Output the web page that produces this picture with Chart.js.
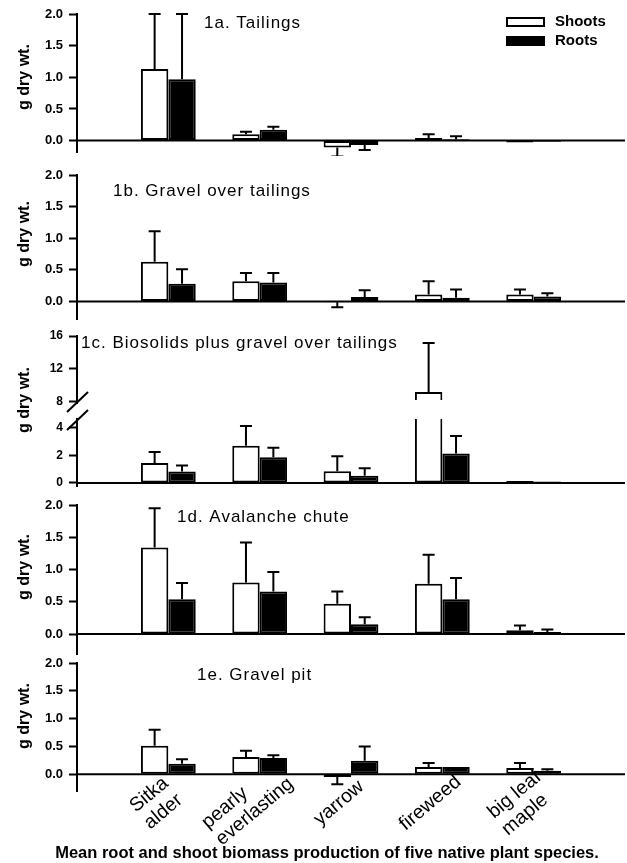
<!DOCTYPE html>
<html>
<head>
<meta charset="utf-8">
<script src="https://cdn.jsdelivr.net/npm/chart.js@4.4.1/dist/chart.umd.min.js"></script>
<style>
  html, body { margin: 0; padding: 0; background: #fff; }
  #wrap { position: relative; width: 627px; height: 863px; overflow: hidden; }
  #wrap canvas { position: absolute; left: 0; }
</style>
</head>
<body>
<div id="wrap"></div>
<script>
// categories and series
const species = ['Sitka alder', 'pearly everlasting', 'yarrow', 'fireweed', 'big leaf maple'];
const speciesLines = [['Sitka', 'alder'], ['pearly', 'everlasting'], ['yarrow'], ['fireweed'], ['big leaf', 'maple']];
const seriesNames = ['Shoots', 'Roots'];
const panelTitles = ['1a. Tailings', '1b. Gravel over tailings', '1c. Biosolids plus gravel over tailings',
                     '1d. Avalanche chute', '1e. Gravel pit'];
const yTitle = 'g dry wt.';
const caption = 'Mean root and shoot biomass production of five native plant species.';

// 1a. Tailings
const shootsA    = [1.13, 0.10, -0.11, 0.04, -0.03];
const shootsErrA = [0.87, 0.04, 0.14, 0.06, 0];
const rootsA     = [0.97, 0.17, -0.07, 0.02, -0.02];
const rootsErrA  = [1.03, 0.05, 0.08, 0.05, 0];

// 1b. Gravel over tailings
const shootsB    = [0.63, 0.32, -0.01, 0.11, 0.11];
const shootsErrB = [0.48, 0.13, 0.08, 0.21, 0.08];
const rootsB     = [0.28, 0.30, 0.07, 0.06, 0.08];
const rootsErrB  = [0.23, 0.15, 0.11, 0.13, 0.05];

// 1c. Biosolids plus gravel over tailings
const shootsC    = [1.45, 2.71, 0.85, 9.2, 0.15];
const shootsErrC = [0.80, 1.60, 1.10, 5.95, 0];
const rootsC     = [0.84, 1.87, 0.53, 2.15, 0.10];
const rootsErrC  = [0.43, 0.70, 0.54, 1.27, 0];

// 1d. Avalanche chute
const shootsD    = [1.34, 0.80, 0.47, 0.78, 0.06];
const shootsErrD = [0.61, 0.62, 0.19, 0.45, 0.07];
const rootsD     = [0.54, 0.66, 0.15, 0.54, 0.03];
const rootsErrD  = [0.25, 0.30, 0.11, 0.33, 0.04];

// 1e. Gravel pit
const shootsE    = [0.51, 0.31, -0.05, 0.13, 0.11];
const shootsErrE = [0.29, 0.11, 0.13, 0.07, 0.09];
const rootsE     = [0.19, 0.29, 0.24, 0.13, 0.06];
const rootsErrE  = [0.08, 0.05, 0.26, 0, 0.03];

// tick labels
const ticksStd = [0, 0.5, 1.0, 1.5, 2.0];
const ticksStdLabels = ['0.0', '0.5', '1.0', '1.5', '2.0'];
const ticksC = [0, 2, 4, 8, 12, 16];
const ticksCLabels = ['0', '2', '4', '8', '12', '16'];

// broken axis in 1c: real value -> axis units
const breakFrom = [0, 4, 8, 16];
const breakTo = [0, 4, 5.89, 10.69];

function brk(v) {
  if (v <= breakFrom[1]) return v;
  for (let i = 2; i < breakFrom.length; i++) {
    if (v <= breakFrom[i] || i === breakFrom.length - 1) {
      const a = breakFrom[i - 1], b = breakFrom[i];
      return breakTo[i - 1] + (v - a) * (breakTo[i] - breakTo[i - 1]) / (b - a);
    }
  }
}
const ident = v => v;

const FONT = '"Liberation Sans", Arial, Helvetica, sans-serif';
Chart.defaults.font.family = FONT;
Chart.defaults.color = '#000';

const panels = [
  { shoots: shootsA, shootsErr: shootsErrA, roots: rootsA, rootsErr: rootsErrA,
    ticks: ticksStd, tickLabels: ticksStdLabels, fwd: ident, min: -0.18, max: 2,
    top: 14, bottom: 152, titleX: 204, titleY: 23, yTitleY: 77, legend: true },
  { shoots: shootsB, shootsErr: shootsErrB, roots: rootsB, rootsErr: rootsErrB,
    ticks: ticksStd, tickLabels: ticksStdLabels, fwd: ident, min: -0.276, max: 2,
    top: 175, bottom: 319, titleX: 113, titleY: 191, yTitleY: 234 },
  { shoots: shootsC, shootsErr: shootsErrC, roots: rootsC, rootsErr: rootsErrC,
    ticks: ticksC, tickLabels: ticksCLabels, fwd: brk, min: -0.22, max: brk(16),
    top: 336, bottom: 486, titleX: 81, titleY: 343, yTitleY: 400, broken: true, tickSize: 12 },
  { shoots: shootsD, shootsErr: shootsErrD, roots: rootsD, rootsErr: rootsErrD,
    ticks: ticksStd, tickLabels: ticksStdLabels, fwd: ident, min: -0.31, max: 2,
    top: 505, bottom: 654, titleX: 177, titleY: 517, yTitleY: 567 },
  { shoots: shootsE, shootsErr: shootsErrE, roots: rootsE, rootsErr: rootsErrE,
    ticks: ticksStd, tickLabels: ticksStdLabels, fwd: ident, min: -0.306, max: 2,
    top: 663, bottom: 791, titleX: 197, titleY: 675, yTitleY: 716, xLabels: true }
];

function makeExtras(p, k, canvasTop) {
  return {
    id: 'panelExtras' + k,
    afterDatasetsDraw(chart) {
      const ctx = chart.ctx, area = chart.chartArea, ys = chart.scales.y;
      ctx.save();
      ctx.strokeStyle = '#000';
      ctx.lineWidth = 2;
      // error bars, one side only
      chart.data.datasets.forEach((ds, di) => {
        const meta = chart.getDatasetMeta(di);
        const vals = di === 0 ? p.shoots : p.roots;
        const errs = di === 0 ? p.shootsErr : p.rootsErr;
        vals.forEach((v, j) => {
          const e = errs[j];
          if (!e) return;
          const bar = meta.data[j + 1];
          const end = v < 0 ? v - e : v + e;
          const y0 = ys.getPixelForValue(p.fwd(v));
          const y1 = ys.getPixelForValue(p.fwd(end));
          ctx.beginPath();
          ctx.moveTo(bar.x, y0);
          ctx.lineTo(bar.x, y1);
          ctx.moveTo(bar.x - 6, y1);
          ctx.lineTo(bar.x + 6, y1);
          ctx.stroke();
        });
      });
      // zero line
      const z = ys.getPixelForValue(0);
      ctx.beginPath();
      ctx.moveTo(area.left, z);
      ctx.lineTo(area.right, z);
      ctx.stroke();
      ctx.restore();
    },
    afterDraw(chart) {
      const ctx = chart.ctx, area = chart.chartArea, ys = chart.scales.y, xs = chart.scales.x;
      ctx.save();
      if (p.broken) {
        const y8 = ys.getPixelForValue(p.fwd(8));
        ctx.fillStyle = '#fff';
        ctx.fillRect(area.left + 2, y8 - 2, area.right - area.left - 2, 19);
        ctx.fillRect(area.left - 3, y8 + 2, 6, 14);
        ctx.strokeStyle = '#000';
        ctx.lineWidth = 2;
        ctx.beginPath();
        ctx.moveTo(area.left - 10, y8 + 10);
        ctx.lineTo(area.left + 11, y8 - 10);
        ctx.moveTo(area.left - 10, y8 + 28);
        ctx.lineTo(area.left + 11, y8 + 8);
        ctx.stroke();
      }
      ctx.fillStyle = '#000';
      // y axis title
      ctx.save();
      ctx.translate(25, p.yTitleY - canvasTop);
      ctx.rotate(-Math.PI / 2);
      ctx.font = 'bold 16px ' + FONT;
      ctx.textAlign = 'center';
      ctx.textBaseline = 'middle';
      ctx.fillText(yTitle, 0, 0);
      ctx.restore();
      // panel title
      ctx.font = '17px ' + FONT;
      ctx.letterSpacing = '1px';
      ctx.textAlign = 'left';
      ctx.textBaseline = 'middle';
      ctx.fillText(panelTitles[k], p.titleX, p.titleY - canvasTop);
      ctx.letterSpacing = '0px';
      // legend
      if (p.legend) {
        const ds = chart.data.datasets;
        ctx.font = 'bold 15px ' + FONT;
        ds.forEach((d, i) => {
          const by = 17 + i * 19 - canvasTop;
          ctx.fillStyle = d.backgroundColor;
          ctx.fillRect(506, by, 39, 10);
          ctx.strokeStyle = '#000';
          ctx.lineWidth = 2;
          ctx.strokeRect(507, by + 1, 37, 8);
          ctx.fillStyle = '#000';
          ctx.fillText(d.label, 555, by + 5);
        });
      }
      // category labels
      if (p.xLabels) {
        ctx.font = '19.5px ' + FONT;
        ctx.textAlign = 'left';
        ctx.textBaseline = 'middle';
        const lh = 22;
        speciesLines.forEach((lines, i) => {
          const x = xs.getPixelForValue(i + 1) - 12;
          const y = area.bottom + 12;
          const w = Math.max(...lines.map(s => ctx.measureText(s).width));
          const h = lines.length * lh;
          ctx.save();
          ctx.translate(x, y);
          ctx.rotate(-40 * Math.PI / 180);
          lines.forEach((s, li) => ctx.fillText(s, -w / 2, -h / 2 + lh * (li + 0.5)));
          ctx.restore();
        });
      }
      ctx.restore();
    }
  };
}

const wrap = document.getElementById('wrap');

panels.forEach((p, k) => {
  const last = k === panels.length - 1;
  const canvasTop = p.top - 12;
  const padBottom = last ? 72 : 4;
  const h = p.bottom - p.top + 12 + padBottom;
  const cv = document.createElement('canvas');
  cv.width = 627;
  cv.height = h;
  cv.style.top = canvasTop + 'px';
  cv.style.width = '627px';
  cv.style.height = h + 'px';
  wrap.appendChild(cv);

  new Chart(cv, {
    type: 'bar',
    data: {
      labels: ['', ...species, ''],
      datasets: [
        { label: seriesNames[0], data: [null, ...p.shoots.map(p.fwd), null],
          backgroundColor: '#fff', borderColor: '#000', borderWidth: 2, borderSkipped: false },
        { label: seriesNames[1], data: [null, ...p.roots.map(p.fwd), null],
          backgroundColor: '#000', borderColor: '#000', borderWidth: 2, borderSkipped: false }
      ]
    },
    options: {
      responsive: false,
      animation: false,
      devicePixelRatio: 1,
      categoryPercentage: 0.6,
      barPercentage: 1.0,
      // left padding + y axis width = 77, the plot's left edge
      layout: { padding: { top: 12, bottom: last ? 0 : 4, left: 29, right: 2 } },
      plugins: {
        legend: { display: false },
        tooltip: { enabled: false },
        title: last ? {
          display: true, position: 'bottom', text: caption, color: '#000',
          font: { size: 16.5, weight: 'bold', family: FONT },
          padding: { top: 52, bottom: 0 }
        } : { display: false }
      },
      scales: {
        x: { type: 'category', display: false, offset: false, grid: { offset: false } },
        y: {
          min: p.min, max: p.max,
          afterBuildTicks: s => { s.ticks = p.ticks.map(v => ({ value: p.fwd(v) })); },
          afterFit: s => { s.width = 48; s.paddingTop = 0; s.paddingBottom = 0; },
          ticks: {
            callback: (v, i) => p.tickLabels[i],
            color: '#000', padding: 6,
            font: { size: p.tickSize || 13, weight: 'bold', family: FONT }
          },
          grid: { drawOnChartArea: false, tickLength: 8, tickColor: '#000', tickWidth: 2 },
          border: { color: '#000', width: 2 }
        }
      }
    },
    plugins: [makeExtras(p, k, canvasTop)]
  });
});
</script>
</body>
</html>
